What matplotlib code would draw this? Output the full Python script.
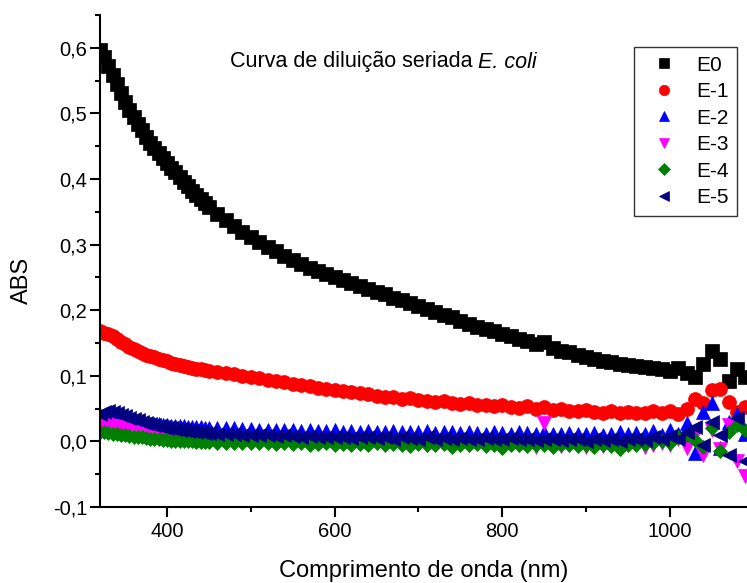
import numpy as np
import matplotlib
matplotlib.use("Agg")
import matplotlib.pyplot as plt
from matplotlib.ticker import MultipleLocator, FuncFormatter

wavelength = list(range(320, 450, 5)) + list(range(450, 1100, 10))

e0 = [0.597, 0.586, 0.572, 0.558, 0.545, 0.531, 0.517, 0.505, 0.494, 0.484,
      0.474, 0.464, 0.455, 0.447, 0.439, 0.432, 0.425, 0.417, 0.410, 0.403,
      0.396, 0.389, 0.382, 0.376, 0.370, 0.364,
      0.358, 0.347, 0.337, 0.328, 0.319, 0.311, 0.304, 0.297, 0.290, 0.283,
      0.276, 0.270, 0.265, 0.259, 0.255, 0.250, 0.246, 0.241, 0.237, 0.232,
      0.228, 0.224, 0.219, 0.215, 0.211, 0.206, 0.202, 0.197, 0.193, 0.189,
      0.184, 0.179, 0.175, 0.172, 0.168, 0.164, 0.160, 0.156, 0.153, 0.149,
      0.151, 0.142, 0.138, 0.136, 0.132, 0.129, 0.126, 0.123, 0.121, 0.118,
      0.116, 0.115, 0.113, 0.112, 0.110, 0.108, 0.112, 0.105, 0.098, 0.118,
      0.138, 0.125, 0.092, 0.110, 0.098]

e1 = [0.168, 0.166, 0.163, 0.160, 0.156, 0.152, 0.148, 0.144, 0.141, 0.138,
      0.135, 0.132, 0.130, 0.128, 0.126, 0.124, 0.122, 0.120, 0.118, 0.116,
      0.115, 0.113, 0.112, 0.111, 0.110, 0.109,
      0.108, 0.106, 0.104, 0.102, 0.100, 0.098, 0.096, 0.094, 0.092, 0.090,
      0.088, 0.086, 0.084, 0.082, 0.080, 0.078, 0.077, 0.075, 0.074, 0.072,
      0.069, 0.068, 0.067, 0.065, 0.066, 0.063, 0.062, 0.060, 0.061, 0.058,
      0.057, 0.058, 0.055, 0.056, 0.054, 0.055, 0.052, 0.051, 0.054, 0.049,
      0.052, 0.048, 0.049, 0.047, 0.046, 0.048, 0.045, 0.044, 0.046, 0.043,
      0.045, 0.044, 0.043, 0.046, 0.044, 0.047, 0.042, 0.050, 0.065, 0.058,
      0.078, 0.080, 0.060, 0.045, 0.052]

e2 = [0.040, 0.039, 0.038, 0.036, 0.035, 0.033, 0.032, 0.031, 0.030, 0.029,
      0.028, 0.027, 0.027, 0.026, 0.026, 0.025, 0.025, 0.024, 0.024, 0.023,
      0.023, 0.022, 0.022, 0.022, 0.022, 0.021,
      0.021, 0.021, 0.020, 0.020, 0.019, 0.019, 0.018, 0.018, 0.017, 0.018,
      0.017, 0.016, 0.017, 0.016, 0.016, 0.017, 0.015, 0.016, 0.015, 0.016,
      0.014, 0.015, 0.016, 0.014, 0.015, 0.014, 0.016, 0.013, 0.015, 0.014,
      0.013, 0.015, 0.013, 0.012, 0.014, 0.013, 0.012, 0.014, 0.013, 0.011,
      0.014, 0.012, 0.011, 0.013, 0.012, 0.011, 0.013, 0.010, 0.012, 0.014,
      0.011, 0.013, 0.012, 0.016, 0.010, 0.018, 0.012, 0.028, -0.018, 0.045,
      0.058, -0.010, 0.030, 0.042, 0.012]

e3 = [0.028, 0.027, 0.026, 0.024, 0.023, 0.021, 0.020, 0.018, 0.017, 0.015,
      0.014, 0.013, 0.012, 0.011, 0.010, 0.009, 0.008, 0.007, 0.007, 0.006,
      0.006, 0.005, 0.005, 0.004, 0.004, 0.004,
      0.004, 0.003, 0.003, 0.002, 0.002, 0.001, 0.001, 0.000, 0.001, 0.000,
      -0.001, 0.000, -0.001, -0.002, -0.001, -0.002, -0.001, -0.003, -0.002, -0.003,
      -0.002, -0.004, -0.003, -0.002, -0.004, -0.003, -0.005, -0.004, -0.003, -0.006,
      -0.004, -0.005, -0.003, -0.006, -0.004, -0.005, -0.004, -0.006, -0.005, -0.009,
      0.028, -0.004, -0.007, -0.005, -0.006, -0.008, -0.005, -0.007, -0.006, -0.011,
      -0.006, -0.004, -0.008, -0.005, -0.003, -0.006, 0.004, -0.010, 0.010, -0.020,
      0.018, -0.012, 0.025, -0.030, -0.052]

e4 = [0.014, 0.014, 0.013, 0.012, 0.011, 0.010, 0.009, 0.008, 0.007, 0.006,
      0.006, 0.005, 0.004, 0.003, 0.003, 0.002, 0.002, 0.001, 0.001, 0.000,
      0.000, 0.000, 0.000, -0.001, -0.001, -0.001,
      -0.001, -0.002, -0.002, -0.002, -0.003, -0.003, -0.002, -0.003, -0.004, -0.003,
      -0.004, -0.003, -0.005, -0.004, -0.003, -0.005, -0.004, -0.006, -0.004, -0.005,
      -0.003, -0.006, -0.004, -0.005, -0.007, -0.004, -0.005, -0.006, -0.004, -0.008,
      -0.005, -0.006, -0.004, -0.007, -0.005, -0.010, -0.006, -0.005, -0.007, -0.006,
      -0.005, -0.008, -0.006, -0.005, -0.007, -0.006, -0.008, -0.005, -0.007, -0.012,
      -0.006, -0.005, -0.004, -0.003, 0.000, -0.002, 0.006, 0.010, 0.002, -0.008,
      0.020, -0.015, 0.015, 0.025, 0.018]

e5 = [0.042, 0.045, 0.046, 0.045, 0.043, 0.040, 0.038, 0.036, 0.034, 0.032,
      0.030, 0.028, 0.027, 0.025, 0.024, 0.022, 0.021, 0.020, 0.019, 0.018,
      0.017, 0.016, 0.016, 0.015, 0.014, 0.013,
      0.013, 0.012, 0.012, 0.011, 0.010, 0.010, 0.009, 0.009, 0.008, 0.009,
      0.008, 0.007, 0.008, 0.007, 0.006, 0.007, 0.006, 0.005, 0.007, 0.006,
      0.005, 0.006, 0.004, 0.006, 0.005, 0.004, 0.006, 0.004, 0.005, 0.003,
      0.005, 0.004, 0.003, 0.005, 0.004, 0.003, 0.005, 0.003, 0.004, 0.002,
      0.004, 0.003, 0.002, 0.004, 0.003, 0.001, 0.003, 0.002, 0.004, 0.000,
      0.003, 0.004, 0.002, 0.006, 0.003, 0.008, 0.004, 0.015, 0.022, -0.005,
      0.030, 0.010, -0.020, 0.035, -0.030]

labels = ["E0", "E-1", "E-2", "E-3", "E-4", "E-5"]
markers = ["s", "o", "^", "v", "D", "<"]
colors = ["#000000", "#FF0000", "#0000FF", "#FF00FF", "#008000", "#000080"]
sizes = [9.5, 10.0, 10.0, 10.0, 7.5, 10.0]
data = [e0, e1, e2, e3, e4, e5]

plt.rcParams['font.family'] = ['Liberation Sans', 'DejaVu Sans']

W, H = 747, 583
fig = plt.figure(figsize=(W / 100, H / 100), dpi=100)
ax = fig.add_axes([100 / W, (H - 507) / H, (W - 100) / W, (507 - 15) / H])

for name, vals, mk, col, ms in zip(labels, data, markers, colors, sizes):
    ax.plot(wavelength, vals, linestyle='none', marker=mk, color=col,
            markersize=ms, markeredgecolor=col, markeredgewidth=0.5, label=name)

ax.set_xlim(320, 1092)
ax.set_ylim(-0.1, 0.65)
ax.xaxis.set_major_locator(MultipleLocator(200))
ax.xaxis.set_minor_locator(MultipleLocator(100))
ax.yaxis.set_major_locator(MultipleLocator(0.1))
ax.yaxis.set_minor_locator(MultipleLocator(0.05))
ax.yaxis.set_major_formatter(FuncFormatter(lambda v, p: f"{v:.1f}".replace('.', ',')))

for s in ['top', 'right']:
    ax.spines[s].set_visible(False)
for s in ['left', 'bottom']:
    ax.spines[s].set_linewidth(1.5)
ax.tick_params(which='major', direction='out', length=7.2, width=1.5, labelsize=14.5)
ax.tick_params(axis='y', which='major', pad=2)
ax.tick_params(axis='x', which='major', pad=3.5)
ax.tick_params(which='minor', direction='out', length=3.6, width=1.5)

ax.set_xlabel("Comprimento de onda (nm)", fontsize=17)
ax.xaxis.set_label_coords(0.5, -0.108)
ax.set_ylabel("ABS", fontsize=17)
ax.yaxis.set_label_coords(-0.104, 0.461)

# title in two parts: regular + italic
t1 = fig.text(230 / W, 1 - 62 / H, "Curva de diluição seriada ",
              ha='left', va='center', fontsize=15.5)
fig.canvas.draw()
bb = t1.get_window_extent(renderer=fig.canvas.get_renderer())
fig.text(bb.x1 / W, 1 - 62 / H, "E. coli", ha='left', va='center',
         fontsize=15.5, style='italic')

leg = ax.legend(loc='upper left', bbox_to_anchor=(634 / W, 1 - 47 / H),
                bbox_transform=fig.transFigure, borderaxespad=0,
                fontsize=15, frameon=True, fancybox=False, edgecolor='#333333',
                framealpha=1, handlelength=2.05, handletextpad=0.5,
                labelspacing=0.36, borderpad=0.42, markerscale=0.75)
leg.get_frame().set_linewidth(1.0)

fig.savefig("out.png", dpi=100)
